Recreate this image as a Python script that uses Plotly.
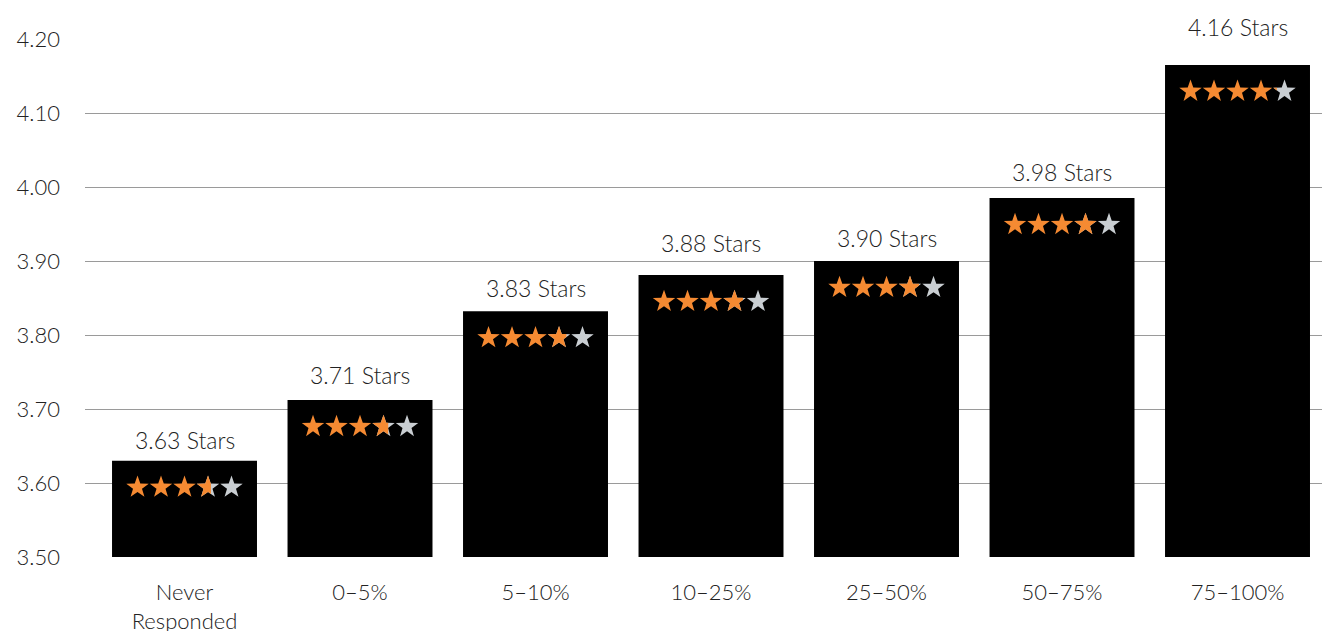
import math
import plotly.graph_objects as go

categories = ["Never<br>Responded", "0–5%", "5–10%", "10–25%", "25–50%", "50–75%", "75–100%"]
bar_heights = [3.630, 3.712, 3.832, 3.881, 3.900, 3.985, 4.165]
star_ratings = [3.63, 3.71, 3.83, 3.88, 3.90, 3.98, 4.16]
y_ticks = [3.50, 3.60, 3.70, 3.80, 3.90, 4.00, 4.10, 4.20]

# pixel gap between bar top and the centre of each rating label (as drawn in the source)
label_gaps = [21, 25, 23, 32, 23, 26, 38]

ORANGE = "#F58A32"
GREY = "#C9CED2"
FONT = "Lato"
TXT = "#222222"

x_idx = list(range(len(categories)))

fig = go.Figure()
fig.add_trace(go.Bar(
    x=x_idx, y=bar_heights, marker=dict(color="#000000", line=dict(width=0)),
    cliponaxis=False, hoverinfo="skip",
))

annotations = [
    dict(x=i, y=h, xref="x", yref="y", text=f"{r:.2f} Stars", showarrow=False,
         yanchor="middle", yshift=g, font=dict(size=23, color=TXT, family=FONT, weight=300))
    for i, (h, r, g) in enumerate(zip(bar_heights, star_ratings, label_gaps))
]

R, r_in = 11.8, 11.8 * 0.40
def star_pts(cx, cy):
    pts = []
    for k in range(10):
        ang = math.pi / 2 + k * math.pi / 5
        rad = R if k % 2 == 0 else r_in
        pts.append((cx + rad * math.cos(ang), cy + rad * math.sin(ang)))
    return pts

def clip_left(pts, xmax):
    out = []
    n = len(pts)
    for i in range(n):
        a, b = pts[i], pts[(i + 1) % n]
        ain, bin_ = a[0] <= xmax, b[0] <= xmax
        if ain:
            out.append(a)
        if ain != bin_:
            t = (xmax - a[0]) / (b[0] - a[0])
            out.append((xmax, a[1] + t * (b[1] - a[1])))
    return out

def to_path(pts):
    return "M " + " L ".join(f"{x:.2f},{y:.2f}" for x, y in pts) + " Z"

shapes = []
spacing = 23.5
half_w = R * math.sin(2 * math.pi / 5)
for i, (h, v) in enumerate(zip(bar_heights, star_ratings)):
    for s in range(5):
        cx = (s - 2) * spacing
        cy = -26.5
        pts = star_pts(cx, cy)
        frac = max(0.0, min(1.0, v - s))
        common = dict(type="path", xref="x", yref="y", xsizemode="pixel", ysizemode="pixel",
                      xanchor=i, yanchor=h, line=dict(width=0), layer="above")
        if frac < 1:
            shapes.append(dict(path=to_path(pts), fillcolor=GREY, **common))
        if frac > 0:
            cp = pts if frac >= 1 else clip_left(pts, cx - half_w + frac * 2 * half_w)
            if len(cp) >= 3:
                shapes.append(dict(path=to_path(cp), fillcolor=ORANGE, **common))

tick_font = dict(size=22, color=TXT, family=FONT, weight=300)

fig.update_layout(
    width=1330, height=631,
    margin=dict(l=77, r=8, t=31, b=82, autoexpand=False),
    paper_bgcolor="white", plot_bgcolor="white",
    bargap=0.174, showlegend=False,
    font=dict(family=FONT, size=22, color=TXT),
    shapes=shapes, annotations=annotations,
    xaxis=dict(range=[-0.567, 6.527], tickmode="array", tickvals=x_idx, ticktext=categories,
               showgrid=False, zeroline=False, showline=False, ticks="", automargin=False,
               ticklabelstandoff=20, tickfont=tick_font),
    yaxis=dict(range=[3.5, 4.2], tickmode="array", tickvals=y_ticks,
               ticktext=[f"{t:.2f}" for t in y_ticks], automargin=False,
               showgrid=True, gridcolor="#9a9a9a", gridwidth=1, zeroline=False, showline=False,
               ticks="", ticklabelstandoff=24, tickfont=tick_font),
)
fig.write_html("out.html")
